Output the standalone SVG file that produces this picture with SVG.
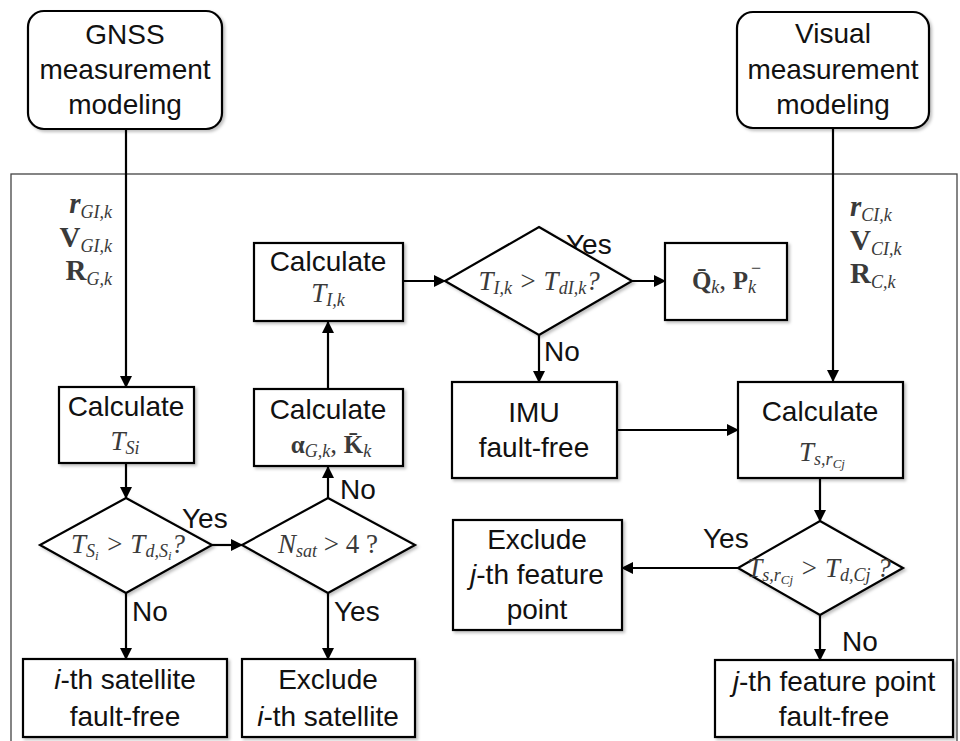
<svg xmlns="http://www.w3.org/2000/svg" width="960" height="741" viewBox="0 0 960 741">
<defs>
<marker id="ah" markerWidth="12" markerHeight="12" refX="11" refY="6" orient="auto" markerUnits="userSpaceOnUse">
<path d="M0,0 L12,6 L0,12 Z" fill="#000"/>
</marker>
<filter id="sh" x="-10%" y="-10%" width="130%" height="130%">
<feDropShadow dx="2" dy="2" stdDeviation="1.5" flood-color="#000" flood-opacity="0.25"/>
</filter>
</defs>
<style>
.box{fill:#fff;stroke:#000;stroke-width:2.2;filter:url(#sh)}
.t{font-family:"Liberation Sans",Arial,sans-serif;font-size:28px;fill:#111;text-anchor:middle}
.lb{font-family:"Liberation Sans",Arial,sans-serif;font-size:28px;fill:#111}
.m{font-family:"Liberation Serif","DejaVu Serif",serif;font-size:27px;fill:#3a3a3a;font-style:italic}
.b{font-weight:bold}
.n{font-style:normal}
.s{font-size:18px}
.ss{font-size:13px}
.c{stroke:#000;stroke-width:2.2;fill:none}
.ca{stroke:#000;stroke-width:2.2;fill:none;marker-end:url(#ah)}
</style>
<rect x="11" y="174" width="946" height="580" fill="none" stroke="#444" stroke-width="1.3"/>

<g id="connectors">
<line class="ca" x1="126" y1="129" x2="126" y2="387"/>
<line class="ca" x1="833" y1="128" x2="833" y2="381"/>
<line class="ca" x1="126" y1="463" x2="126" y2="498"/>
<line class="ca" x1="212" y1="545" x2="242" y2="545"/>
<line class="ca" x1="328" y1="498" x2="328" y2="467"/>
<line class="ca" x1="328" y1="389" x2="328" y2="322"/>
<line class="ca" x1="403" y1="281" x2="445" y2="281"/>
<line class="ca" x1="632" y1="281" x2="665" y2="281"/>
<line class="ca" x1="539" y1="335" x2="539" y2="382"/>
<line class="ca" x1="617" y1="430" x2="738" y2="430"/>
<line class="ca" x1="820" y1="478" x2="820" y2="521"/>
<line class="ca" x1="738" y1="568" x2="622" y2="568"/>
<line class="ca" x1="820" y1="615" x2="820" y2="660"/>
<line class="ca" x1="126" y1="593" x2="126" y2="659"/>
<line class="ca" x1="328" y1="593" x2="328" y2="659"/>
</g>

<g id="labels">
<text class="lb" x="182" y="528">Yes</text>
<text class="lb" x="340" y="499">No</text>
<text class="lb" x="566" y="254">Yes</text>
<text class="lb" x="544" y="361">No</text>
<text class="lb" x="703" y="548">Yes</text>
<text class="lb" x="842" y="651">No</text>
<text class="lb" x="132" y="621">No</text>
<text class="lb" x="334" y="621">Yes</text>
</g>

<g id="gnss">
<rect class="box" x="28" y="11" width="194" height="118" rx="16"/>
<text class="t" x="125" y="44">GNSS</text>
<text class="t" x="125" y="79">measurement</text>
<text class="t" x="125" y="114">modeling</text>
</g>
<g id="visual">
<rect class="box" x="737" y="12" width="192" height="116" rx="16"/>
<text class="t" x="833" y="43">Visual</text>
<text class="t" x="833" y="79">measurement</text>
<text class="t" x="833" y="114">modeling</text>
</g>

<g id="gnss-vars">
<text class="m" x="112" y="213" text-anchor="end"><tspan class="b" font-size="29">r</tspan><tspan class="s" dy="5">GI,k</tspan></text>
<text class="m" x="112" y="247" text-anchor="end"><tspan class="b n" font-size="29">V</tspan><tspan class="s" dy="5">GI,k</tspan></text>
<text class="m" x="112" y="280" text-anchor="end"><tspan class="b n" font-size="29">R</tspan><tspan class="s" dy="5">G,k</tspan></text>
</g>
<g id="visual-vars">
<text class="m" x="850" y="216"><tspan class="b" font-size="29">r</tspan><tspan class="s" dy="5">CI,k</tspan></text>
<text class="m" x="850" y="250"><tspan class="b n" font-size="29">V</tspan><tspan class="s" dy="5">CI,k</tspan></text>
<text class="m" x="850" y="283"><tspan class="b n" font-size="29">R</tspan><tspan class="s" dy="5">C,k</tspan></text>
</g>

<g id="calc-tsi">
<rect class="box" x="59" y="387" width="135" height="76"/>
<text class="t" x="126" y="416">Calculate</text>
<text class="m" x="125" y="450" text-anchor="middle">T<tspan class="s" dy="4">Si</tspan></text>
</g>

<g id="diamond-tsi">
<polygon class="box" points="126,498 212,545 126,593 40,545"/>
<text class="m" x="128" y="553" text-anchor="middle">T<tspan class="s" dy="4">S</tspan><tspan class="ss" dy="3">i</tspan><tspan dy="-7"> &gt; T</tspan><tspan class="s" dy="4">d,S</tspan><tspan class="ss" dy="3">i</tspan><tspan dy="-7">?</tspan></text>
</g>

<g id="diamond-nsat">
<polygon class="box" points="328,498 415,545 328,593 242,545"/>
<text class="m" x="328" y="553" text-anchor="middle">N<tspan class="s" dy="4">sat</tspan><tspan class="n" dy="-4"> &gt; 4 ?</tspan></text>
</g>

<g id="calc-alpha">
<rect class="box" x="254" y="389" width="149" height="77"/>
<text class="t" x="328" y="419">Calculate</text>
<text class="m" x="331" y="453" text-anchor="middle"><tspan class="b n" font-size="25">α</tspan><tspan class="s" dy="4">G,k</tspan><tspan class="n" dy="-4">, </tspan><tspan class="b n" font-size="25">K̄</tspan><tspan class="s" dy="4">k</tspan></text>
</g>

<g id="calc-ti">
<rect class="box" x="254" y="243" width="149" height="78"/>
<text class="t" x="328" y="271">Calculate</text>
<text class="m" x="328" y="302" text-anchor="middle" font-size="25">T<tspan class="s" dy="4">I,k</tspan></text>
</g>

<g id="diamond-ti">
<polygon class="box" points="539,227 632,281 539,335 445,281"/>
<text class="m" x="539" y="290" text-anchor="middle">T<tspan class="s" dy="4">I,k</tspan><tspan dy="-4"> &gt; T</tspan><tspan class="s" dy="4">dI,k</tspan><tspan dy="-4">?</tspan></text>
</g>

<g id="qp">
<rect class="box" x="665" y="243" width="122" height="77"/>
<text class="m" x="724" y="289" text-anchor="middle"><tspan class="b n" font-size="25">Q̄</tspan><tspan class="s" dy="4">k</tspan><tspan class="n" dy="-4">, </tspan><tspan class="b n" font-size="25">P</tspan><tspan class="s" dy="4">k</tspan></text>
<text class="m s n" x="756" y="274" text-anchor="middle">−</text>
</g>

<g id="imu">
<rect class="box" x="452" y="382" width="165" height="96"/>
<text class="t" x="534" y="422">IMU</text>
<text class="t" x="534" y="457">fault-free</text>
</g>

<g id="calc-ts">
<rect class="box" x="738" y="382" width="165" height="96"/>
<text class="t" x="820" y="421">Calculate</text>
<text class="m" x="822" y="461" text-anchor="middle">T<tspan class="s" dy="4">s,r</tspan><tspan class="ss" dy="3">Cj</tspan></text>
</g>

<g id="diamond-ts">
<polygon class="box" points="820,521 903,568 820,615 738,568"/>
<text class="m" x="819" y="577" text-anchor="middle">T<tspan class="s" dy="4">s,r</tspan><tspan class="ss" dy="3">Cj</tspan><tspan dy="-7"> &gt; T</tspan><tspan class="s" dy="4">d,Cj</tspan><tspan dy="-4"> ?</tspan></text>
</g>

<g id="exclude-j">
<rect class="box" x="453" y="520" width="169" height="110"/>
<text class="t" x="537" y="549">Exclude</text>
<text class="t" x="537" y="584"><tspan font-style="italic">j</tspan>-th feature</text>
<text class="t" x="537" y="619">point</text>
</g>

<g id="j-free">
<rect class="box" x="715" y="660" width="238" height="77"/>
<text class="t" x="834" y="691"><tspan font-style="italic">j</tspan>-th feature point</text>
<text class="t" x="834" y="726">fault-free</text>
</g>

<g id="i-free">
<rect class="box" x="23" y="659" width="204" height="78"/>
<text class="t" x="125" y="689"><tspan font-style="italic">i</tspan>-th satellite</text>
<text class="t" x="125" y="726">fault-free</text>
</g>

<g id="exclude-i">
<rect class="box" x="242" y="659" width="173" height="78"/>
<text class="t" x="328" y="689">Exclude</text>
<text class="t" x="328" y="726"><tspan font-style="italic">i</tspan>-th satellite</text>
</g>
</svg>
